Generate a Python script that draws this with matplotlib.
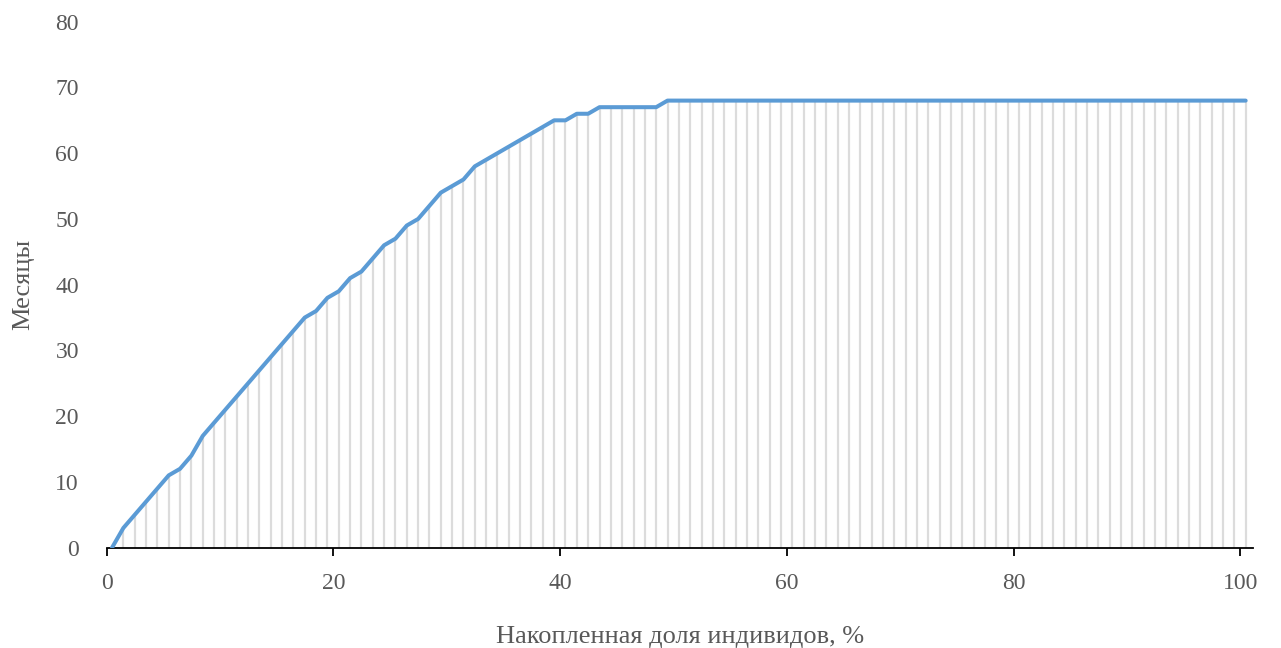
import numpy as np
import matplotlib.pyplot as plt

# Months value for each 1% step of cumulative share of individuals
months = [0, 3, 5, 7, 9, 11, 12, 14, 17, 19,
          21, 23, 25, 27, 29, 31, 33, 35, 36, 38,
          39, 41, 42, 44, 46, 47, 49, 50, 52, 54,
          55, 56, 58, 59, 60, 61, 62, 63, 64, 65,
          65, 66, 66, 67, 67, 67, 67, 67, 67, 68,
          68, 68, 68, 68, 68, 68, 68, 68, 68, 68,
          68, 68, 68, 68, 68, 68, 68, 68, 68, 68,
          68, 68, 68, 68, 68, 68, 68, 68, 68, 68,
          68, 68, 68, 68, 68, 68, 68, 68, 68, 68,
          68, 68, 68, 68, 68, 68, 68, 68, 68, 68,
          68]
share = np.arange(len(months)) + 0.47

x_ticks = [0, 20, 40, 60, 80, 100]
y_ticks = [0, 10, 20, 30, 40, 50, 60, 70, 80]

plt.rcParams['font.family'] = ['Liberation Serif', 'DejaVu Serif']

fig = plt.figure(figsize=(12.81, 6.48), dpi=100)
ax = fig.add_axes([0.0833, 0.1548, 0.8947, 0.8117])

# drop lines from each point down to the axis
ax.vlines(share, 0, months, color='#dcdcdc', linewidth=1.6, zorder=1)
ax.plot(share, months, color='#5b9bd5', linewidth=2.9, solid_capstyle='round', zorder=3)

ax.set_xlim(0, 101.1)
ax.set_ylim(0, 80)
ax.set_xticks(x_ticks)
ax.set_yticks(y_ticks)

for side in ['top', 'right', 'left']:
    ax.spines[side].set_visible(False)
ax.spines['bottom'].set_color('black')
ax.spines['bottom'].set_linewidth(1.3)

ax.tick_params(axis='x', direction='out', length=6, width=1.3, color='black',
               labelsize=17, labelcolor='#595959', pad=12)
ax.tick_params(axis='y', length=0, labelsize=17, labelcolor='#595959', pad=20)

ax.set_xlabel('Накопленная доля индивидов, %', fontsize=19, color='#595959', labelpad=23)
ax.set_ylabel('Месяцы', fontsize=19, color='#595959', labelpad=15)

fig.savefig('out.png', dpi=100)
